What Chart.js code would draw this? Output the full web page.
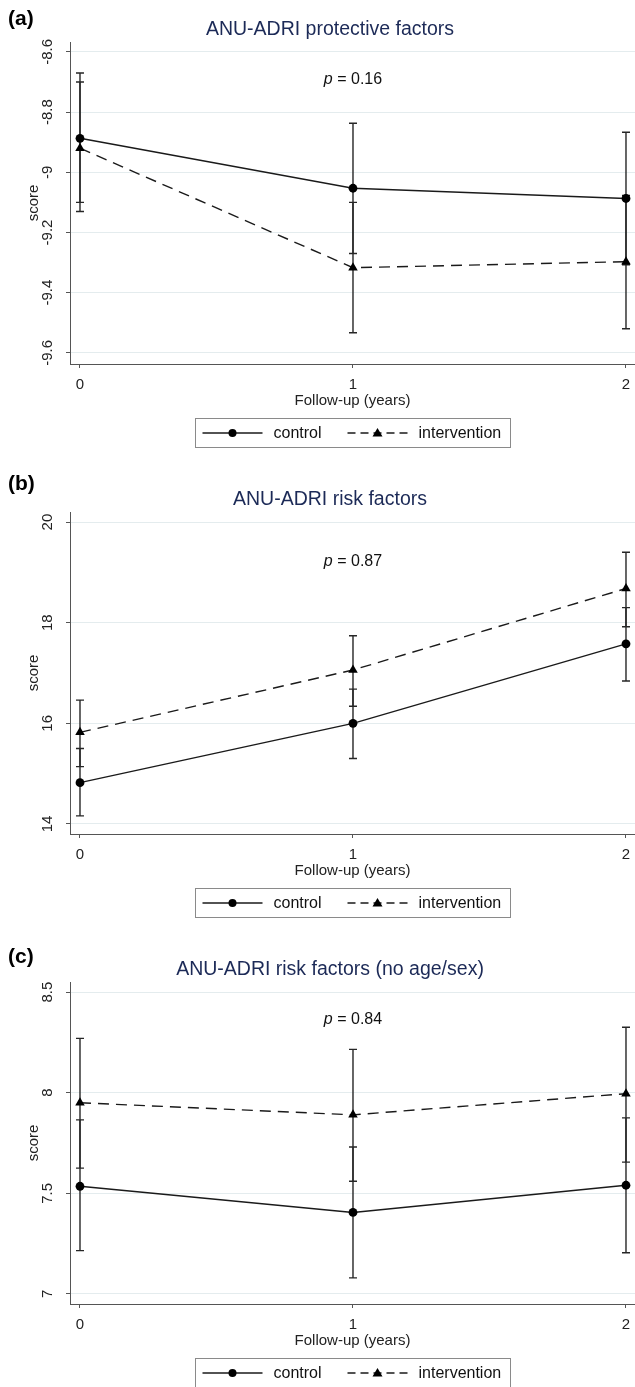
<!DOCTYPE html>
<html>
<head>
<meta charset="utf-8">
<script src="https://cdn.jsdelivr.net/npm/chart.js@4.4.1/dist/chart.umd.min.js"></script>
<style>
  html, body { margin: 0; padding: 0; background: #fff; overflow: hidden; }
  .panel { position: absolute; left: 0; width: 635px; height: 470px; }
</style>
</head>
<body>
<div class="panel" style="top:0px"><canvas id="chartA" width="635" height="470"></canvas></div>
<div class="panel" style="top:470px"><canvas id="chartB" width="635" height="470"></canvas></div>
<div class="panel" style="top:940px"><canvas id="chartC" width="635" height="470"></canvas></div>
<script>
const years = [0, 1, 2];
const seriesNames = ['control', 'intervention'];

// (a) protective factors
const protTicks = [-9.6, -9.4, -9.2, -9, -8.8, -8.6];
const protControl = [-8.887, -9.053, -9.087];
const protControlLo = [-9.10, -9.27, -9.307];
const protControlHi = [-8.67, -8.837, -8.867];
const protInterv = [-8.92, -9.317, -9.297];
const protIntervLo = [-9.13, -9.533, -9.52];
const protIntervHi = [-8.70, -9.10, -9.077];

// (b) risk factors
const riskTicks = [14, 16, 18, 20];
const riskControl = [14.82, 16.0, 17.58];
const riskControlLo = [14.16, 15.30, 16.84];
const riskControlHi = [15.50, 16.68, 18.30];
const riskInterv = [15.82, 17.06, 18.68];
const riskIntervLo = [15.14, 16.34, 17.92];
const riskIntervHi = [16.46, 17.74, 19.40];

// (c) risk factors without age/sex
const noAgeTicks = [7, 7.5, 8, 8.5];
const noAgeControl = [7.535, 7.405, 7.54];
const noAgeControlLo = [7.215, 7.08, 7.205];
const noAgeControlHi = [7.865, 7.73, 7.875];
const noAgeInterv = [7.95, 7.89, 7.995];
const noAgeIntervLo = [7.625, 7.56, 7.655];
const noAgeIntervHi = [8.27, 8.215, 8.325];

const FONT = "'Liberation Sans', Arial, Helvetica, sans-serif";
const INK = '#1a1a1a';

const errorBars = {
    id: 'errorBars',
    beforeDatasetsDraw(chart) {
        const ctx = chart.ctx, xs = chart.scales.x, ys = chart.scales.y;
        ctx.save();
        ctx.strokeStyle = '#262626';
        ctx.lineWidth = 1.4;
        chart.data.datasets.forEach(ds => {
            ds.data.forEach((p, i) => {
                const x = xs.getPixelForValue(p.x);
                const yl = ys.getPixelForValue(ds.lo[i]);
                const yh = ys.getPixelForValue(ds.hi[i]);
                ctx.beginPath();
                ctx.moveTo(x, yl); ctx.lineTo(x, yh);
                ctx.moveTo(x - 4, yl); ctx.lineTo(x + 4, yl);
                ctx.moveTo(x - 4, yh); ctx.lineTo(x + 4, yh);
                ctx.stroke();
            });
        });
        ctx.restore();
    }
};

function drawMarker(ctx, style, x, y) {
    ctx.beginPath();
    if (style === 'circle') {
        ctx.arc(x, y, 4, 0, Math.PI * 2);
    } else {
        ctx.moveTo(x, y - 5);
        ctx.lineTo(x + 5, y + 3.5);
        ctx.lineTo(x - 5, y + 3.5);
        ctx.closePath();
    }
    ctx.fill();
}

const panelText = {
    id: 'panelText',
    afterDraw(chart, args, opts) {
        const ctx = chart.ctx, area = chart.chartArea;
        const xs = chart.scales.x, ys = chart.scales.y;
        ctx.save();

        // panel tag
        ctx.fillStyle = '#000';
        ctx.font = 'bold 21px ' + FONT;
        ctx.textAlign = 'left';
        ctx.textBaseline = 'middle';
        ctx.fillText(opts.tag, 8, opts.tagY);

        // rotated y tick labels
        ctx.fillStyle = '#222';
        ctx.font = '15px ' + FONT;
        ys.ticks.forEach(t => {
            ctx.save();
            ctx.translate(area.left - 22, ys.getPixelForValue(t.value));
            ctx.rotate(-Math.PI / 2);
            ctx.textAlign = 'center';
            ctx.textBaseline = 'middle';
            ctx.fillText(String(t.value), 0, 0);
            ctx.restore();
        });

        // p value
        const py = area.top + opts.pY;
        ctx.font = 'italic 16px ' + FONT;
        const w1 = ctx.measureText('p').width;
        ctx.font = '16px ' + FONT;
        const rest = ' = ' + opts.p;
        const w2 = ctx.measureText(rest).width;
        const px = xs.getPixelForValue(1) - (w1 + w2) / 2;
        ctx.textAlign = 'left';
        ctx.fillStyle = '#111';
        ctx.font = 'italic 16px ' + FONT;
        ctx.fillText('p', px, py);
        ctx.font = '16px ' + FONT;
        ctx.fillText(rest, px + w1, py);

        // legend box
        const cx = (area.left + area.right) / 2;
        const bl = Math.round(cx - 157.5) + 0.5, bt = area.bottom + 54.5;
        ctx.fillStyle = '#fff';
        ctx.fillRect(bl, bt, 315, 29);
        ctx.strokeStyle = '#8a8a8a';
        ctx.lineWidth = 1;
        ctx.strokeRect(bl, bt, 315, 29);
        const my = bt + 14.5;
        const items = [
            { x0: 7, x1: 67, mx: 37, tx: 78, dash: [], style: 'circle' },
            { x0: 152, x1: 213, mx: 182, tx: 223, dash: [8, 5], style: 'triangle' }
        ];
        items.forEach((it, i) => {
            ctx.strokeStyle = INK;
            ctx.lineWidth = 1.3;
            ctx.setLineDash(it.dash);
            ctx.beginPath();
            ctx.moveTo(bl + it.x0, my);
            ctx.lineTo(bl + it.x1, my);
            ctx.stroke();
            ctx.setLineDash([]);
            ctx.fillStyle = '#000';
            drawMarker(ctx, it.style, bl + it.mx, my);
            ctx.fillStyle = '#111';
            ctx.font = '16px ' + FONT;
            ctx.textBaseline = 'middle';
            ctx.fillText(seriesNames[i], bl + it.tx, my + 1);
        });
        ctx.restore();
    }
};

function makeChart(id, title, ticks, yMin, yMax, ctrl, ctrlLo, ctrlHi, intv, intvLo, intvHi, textOpts) {
    const ctx = document.getElementById(id).getContext('2d');
    return new Chart(ctx, {
        type: 'line',
        data: {
            datasets: [{
                label: seriesNames[0],
                data: years.map((x, i) => ({ x: x, y: ctrl[i] })),
                lo: ctrlLo,
                hi: ctrlHi,
                borderColor: INK,
                backgroundColor: '#000',
                borderWidth: 1.4,
                pointStyle: 'circle',
                pointRadius: 4.4,
                pointBorderWidth: 0,
                tension: 0
            }, {
                label: seriesNames[1],
                data: years.map((x, i) => ({ x: x, y: intv[i] })),
                lo: intvLo,
                hi: intvHi,
                borderColor: INK,
                backgroundColor: '#000',
                borderWidth: 1.4,
                borderDash: [11, 7],
                pointStyle: 'triangle',
                pointRadius: 5.5,
                pointBorderWidth: 0,
                tension: 0
            }]
        },
        options: {
            responsive: false,
            animation: false,
            layout: { autoPadding: false, padding: { left: 25, right: 0, top: 0, bottom: 60 } },
            scales: {
                x: {
                    type: 'linear',
                    min: -0.0366,
                    max: 2.033,
                    afterBuildTicks: s => { s.ticks = years.map(v => ({ value: v })); },
                    afterFit: s => { s.height = 46; s.paddingLeft = 0; s.paddingRight = 0; },
                    grid: { display: true, drawOnChartArea: false, drawTicks: true, tickLength: 4, tickColor: '#555' },
                    border: { display: true, color: '#555', width: 1 },
                    ticks: { padding: 8, color: '#222', font: { family: FONT, size: 15 } },
                    title: { display: true, text: 'Follow-up (years)', color: '#222', padding: { top: 0, bottom: 0 }, font: { family: FONT, size: 15 } }
                },
                y: {
                    type: 'linear',
                    min: yMin,
                    max: yMax,
                    afterBuildTicks: s => { s.ticks = ticks.map(v => ({ value: v })); },
                    afterFit: s => { s.width = 45; s.paddingTop = 0; s.paddingBottom = 0; },
                    grid: { display: true, drawOnChartArea: true, color: '#e4ecee', lineWidth: 1, drawTicks: true, tickLength: 4, tickColor: '#555' },
                    border: { display: true, color: '#555', width: 1 },
                    ticks: { display: false },
                    title: { display: true, text: 'score', color: '#222', padding: { top: 0, bottom: 0 }, font: { family: FONT, size: 15 } }
                }
            },
            plugins: {
                legend: { display: false },
                tooltip: { enabled: false },
                title: {
                    display: true,
                    text: title,
                    color: '#1c2a57',
                    font: { family: FONT, size: 19.5, weight: 'normal' },
                    padding: { top: 18, bottom: 0.6 }
                },
                panelText: textOpts
            }
        },
        plugins: [errorBars, panelText]
    });
}

makeChart('chartA', 'ANU-ADRI protective factors', protTicks, -9.637, -8.567,
    protControl, protControlLo, protControlHi, protInterv, protIntervLo, protIntervHi,
    { tag: '(a)', tagY: 19, p: '0.16', pY: 38 });
makeChart('chartB', 'ANU-ADRI risk factors', riskTicks, 13.8, 20.2,
    riskControl, riskControlLo, riskControlHi, riskInterv, riskIntervLo, riskIntervHi,
    { tag: '(b)', tagY: 14, p: '0.87', pY: 50 });
makeChart('chartC', 'ANU-ADRI risk factors (no age/sex)', noAgeTicks, 6.95, 8.55,
    noAgeControl, noAgeControlLo, noAgeControlHi, noAgeInterv, noAgeIntervLo, noAgeIntervHi,
    { tag: '(c)', tagY: 17, p: '0.84', pY: 38 });
</script>
</body>
</html>
